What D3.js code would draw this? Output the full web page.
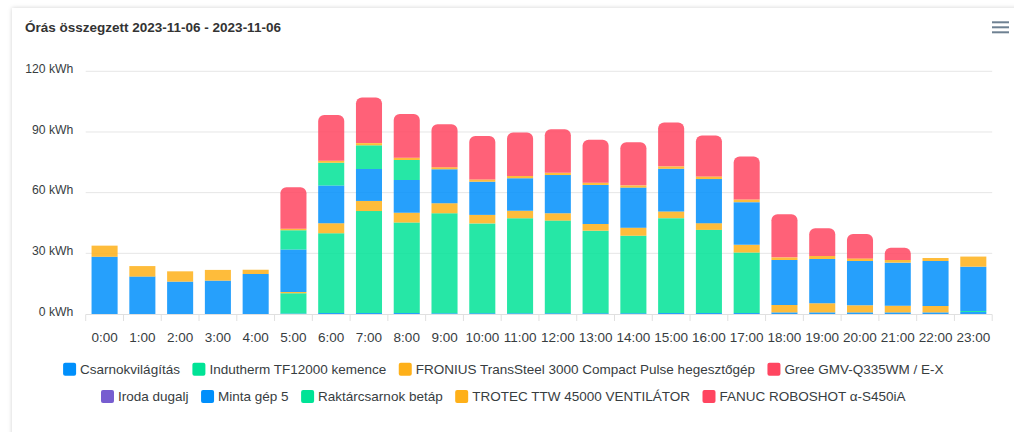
<!DOCTYPE html>
<html>
<head>
<meta charset="utf-8">
<script src="https://cdn.jsdelivr.net/npm/d3@7/dist/d3.min.js"></script>
<style>
  html, body { margin: 0; padding: 0; background: #ffffff; }
  svg { display: block; font-family: "Liberation Sans", Arial, Helvetica, sans-serif; }
</style>
</head>
<body>
<svg id="chart" width="1014" height="432"></svg>
<script>
// ---------------- DATA ----------------
const title = "Órás összegzett 2023-11-06 - 2023-11-06";
const hours = ["0:00","1:00","2:00","3:00","4:00","5:00","6:00","7:00","8:00","9:00","10:00","11:00",
               "12:00","13:00","14:00","15:00","16:00","17:00","18:00","19:00","20:00","21:00","22:00","23:00"];
const yTicks = [0, 30, 60, 90, 120];
const yUnit = " kWh";

const seriesNames = [
  "Csarnokvilágítás",
  "Indutherm TF12000 kemence",
  "FRONIUS TransSteel 3000 Compact Pulse hegesztőgép",
  "Gree GMV-Q335WM / E-X",
  "Iroda dugalj",
  "Minta gép 5",
  "Raktárcsarnok betáp",
  "TROTEC TTW 45000 VENTILÁTOR",
  "FANUC ROBOSHOT α-S450iA"
];
const seriesColors = ["#008FFB", "#00E396", "#FEB019", "#FF4560", "#775DD0",
                      "#008FFB", "#00E396", "#FEB019", "#FF4560"];

const csarnokvilagitas = [0.5,0.5,0.5,0.5,0.5,0.3,0.5,0.5,0.5,0.4,0.4,0.4,0.4,0.4,0.4,0.5,0.5,0.5,0.8,0.8,0.8,0.8,0.8,1.0];
const indutherm        = [0,0,0,0,0,10,39.4,50.4,44.7,49.4,44.4,46.9,45.8,40.8,38.3,46.9,41.1,29.9,0,0,0,0,0,0.5];
const fronius          = [0,0,0,0,0,0.6,5,5,4.9,4.9,4.2,3.8,3.6,3.3,4,3.3,3.3,3.8,3.7,4.5,3.5,3.3,3.2,0];
const gree             = [0,0,0,0,0,0,0,0,0,0,0,0,0,0,0,0,0,0,0,0,0,0,0,0];
const irodaDugalj      = [0,0,0,0,0,0,0,0,0,0,0,0,0,0,0,0,0,0,0,0,0,0,0,0];
const mintaGep5        = [27.8,18,15.5,16,19.3,21,18.6,15.8,16.2,16.9,16.4,16,18.9,19.3,19.8,21.1,21.8,21.1,22.2,21.9,21.9,21.3,22.2,21.9];
const raktarcsarnok    = [0,0,0,0,0,9.5,11.3,11.7,9.9,0,0,0,0,0,0,0,0,0,0,0,0,0,0,0];
const trotec           = [5.5,5.2,5.1,5.3,2.1,0.7,1,1.1,1,1,1.1,1.1,1.1,1.1,1.1,1.2,1.3,1.3,1.3,1.5,1.3,1.3,1.5,5.0];
const fanuc            = [0,0,0,0,0,20.6,22.6,22.5,21.7,21.2,21.5,21.5,21.5,21.2,21.3,21.7,20.3,21.3,21.3,13.7,12.1,6.1,0,0];

const seriesValues = [csarnokvilagitas, indutherm, fronius, gree, irodaDugalj, mintaGep5, raktarcsarnok, trotec, fanuc];

// ---------------- BUILD ----------------
(function () {
const svg = d3.select("#chart");

// card with shadow
const defs = svg.append("defs");
const f = defs.append("filter").attr("id", "shadow").attr("x", "-5%").attr("y", "-5%").attr("width", "110%").attr("height", "110%");
f.append("feDropShadow").attr("dx", 0).attr("dy", 0).attr("stdDeviation", 2).attr("flood-color", "#000").attr("flood-opacity", 0.18);
svg.append("rect").attr("x", 12).attr("y", 8).attr("width", 1010).attr("height", 440)
  .attr("fill", "#fff").attr("filter", "url(#shadow)");

// title
svg.append("text").attr("x", 25).attr("y", 31.5)
  .attr("font-size", 13.5).attr("font-weight", "bold").attr("fill", "#333")
  .text(title);

// menu icon
[22.3, 27.3, 32.3].forEach(yy => {
  svg.append("rect").attr("x", 992).attr("y", yy - 1).attr("width", 17).attr("height", 2)
    .attr("fill", "#6e8192");
});

const pLeft = 85.7, pRight = 992.2, pTop = 71.3, pBottom = 314;

const x = d3.scaleBand().domain(hours).range([pLeft, pRight]).paddingInner(0.31).paddingOuter(0.155);
const y = d3.scaleLinear().domain([0, 120]).range([pBottom, pTop]);

// grid
svg.append("g").selectAll("line").data(yTicks.filter(t => t > 0)).join("line")
  .attr("x1", pLeft).attr("x2", pRight)
  .attr("y1", d => y(d)).attr("y2", d => y(d))
  .attr("stroke", "#e6e6e6").attr("stroke-width", 1);

// y labels
svg.append("g").selectAll("text").data(yTicks).join("text")
  .attr("x", 73.3).attr("y", d => y(d) + 1.8)
  .attr("text-anchor", "end").attr("font-size", 12.2).attr("fill", "#373d3f")
  .text(d => d + yUnit);

// stacked data
const table = hours.map((h, i) => {
  const row = { hour: h };
  seriesNames.forEach((n, s) => row[n] = seriesValues[s][i]);
  return row;
});
const stack = d3.stack().keys(seriesNames)(table);

function roundTop(x0, y0, w, h, r) {
  r = Math.min(r, h, w / 2);
  return `M${x0},${y0 + h}L${x0},${y0 + r}A${r},${r} 0 0 1 ${x0 + r},${y0}` +
         `L${x0 + w - r},${y0}A${r},${r} 0 0 1 ${x0 + w},${y0 + r}L${x0 + w},${y0 + h}Z`;
}

const lastIdx = seriesNames.length - 1;
stack.forEach((layer, si) => {
  const g = svg.append("g").attr("fill", seriesColors[si]).attr("fill-opacity", 0.85);
  g.selectAll("path").data(layer.filter(d => d[1] - d[0] > 0)).join("path")
    .attr("d", d => {
      const x0 = x(d.data.hour), w = x.bandwidth();
      const y0 = y(d[1]), h = y(d[0]) - y(d[1]);
      if (si === lastIdx) return roundTop(x0, y0, w, h, 6);
      return `M${x0},${y0}h${w}v${h}h${-w}Z`;
    });
});

// x axis line & ticks
svg.append("line").attr("x1", pLeft).attr("x2", pRight).attr("y1", pBottom + 0.5).attr("y2", pBottom + 0.5)
  .attr("stroke", "#e0e0e0");
const step = x.step();
const tickXs = d3.range(hours.length + 1).map(i => pLeft + i * step);
svg.append("g").selectAll("line").data(tickXs).join("line")
  .attr("x1", d => d).attr("x2", d => d).attr("y1", pBottom + 0.5).attr("y2", pBottom + 7)
  .attr("stroke", "#e0e0e0");

// x labels
svg.append("g").selectAll("text").data(hours).join("text")
  .attr("x", d => x(d) + x.bandwidth() / 2).attr("y", 341.5)
  .attr("text-anchor", "middle").attr("font-size", 13.5).attr("fill", "#373d3f")
  .text(d => d);

// legend
const legend = svg.append("g");
const items = seriesNames.map((n, i) => {
  const g = legend.append("g");
  g.append("rect").attr("width", 13).attr("height", 13).attr("rx", 2).attr("fill", seriesColors[i]);
  const t = g.append("text").attr("x", 17).attr("y", 11.2).attr("font-size", 13.5).attr("fill", "#373d3f").text(n);
  const w = 17 + t.node().getComputedTextLength();
  return { g, w };
});
const gap = 12.5, maxRow = 920, centerX = 503.3;
const rows = [[]];
let cur = 0;
items.forEach(it => {
  const last = rows[rows.length - 1];
  const add = (last.length ? gap : 0) + it.w;
  if (last.length && cur + add > maxRow) { rows.push([it]); cur = it.w; }
  else { last.push(it); cur += add; }
});
rows.forEach((row, ri) => {
  const total = d3.sum(row, d => d.w) + gap * (row.length - 1);
  let xx = centerX - total / 2;
  const yy = 362.7 + ri * 27.3;
  row.forEach(it => { it.g.attr("transform", `translate(${xx},${yy})`); xx += it.w + gap; });
});
})();
</script>
</body>
</html>
